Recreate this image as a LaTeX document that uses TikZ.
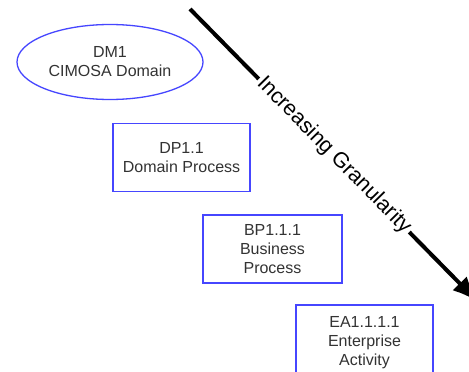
\documentclass[tikz,border=0pt]{standalone}
\usepackage{fontspec}
\setmainfont{Liberation Sans}
\usetikzlibrary{shapes.geometric,arrows.meta}
\definecolor{boxblue}{RGB}{70,70,255}
\definecolor{txtgray}{RGB}{51,51,51}
\begin{document}
\begin{tikzpicture}[x=1pt,y=-1pt,
  txt/.style={text=txtgray,font=\fontsize{16}{19}\selectfont,align=center},
  blk/.style={txt,draw=boxblue,line width=1.3pt,minimum width=137pt,minimum height=68pt,inner sep=0pt},
  ell/.style={txt,draw=boxblue,line width=1.3pt,ellipse,minimum width=186pt,minimum height=75pt,inner sep=0pt},
  gran/.style={line width=4pt,-{Latex[length=26pt,width=20pt]}}]
\clip (0,0) rectangle (469,372);
\fill[white] (0,0) rectangle (469,372);
\node[ell] (dm) at (110,62) {DM1\\CIMOSA Domain};
\node[blk] (dp) at (181.5,157.5) {DP1.1\\Domain Process};
\node[blk,minimum width=139pt] (bp) at (272.5,249) {BP1.1.1\\Business\\Process};
\node[blk,minimum height=76pt] (ea) at (364.5,343) {EA1.1.1.1\\Enterprise\\Activity};
\coordinate (s) at (190,9);
\coordinate (e) at (478,302);
\draw[gran] (s) -- node[sloped,fill=white,inner sep=2pt,text=black,font=\fontsize{21.5}{25}\selectfont] (lbl) {Increasing Granularity} (e);
\end{tikzpicture}
\end{document}
